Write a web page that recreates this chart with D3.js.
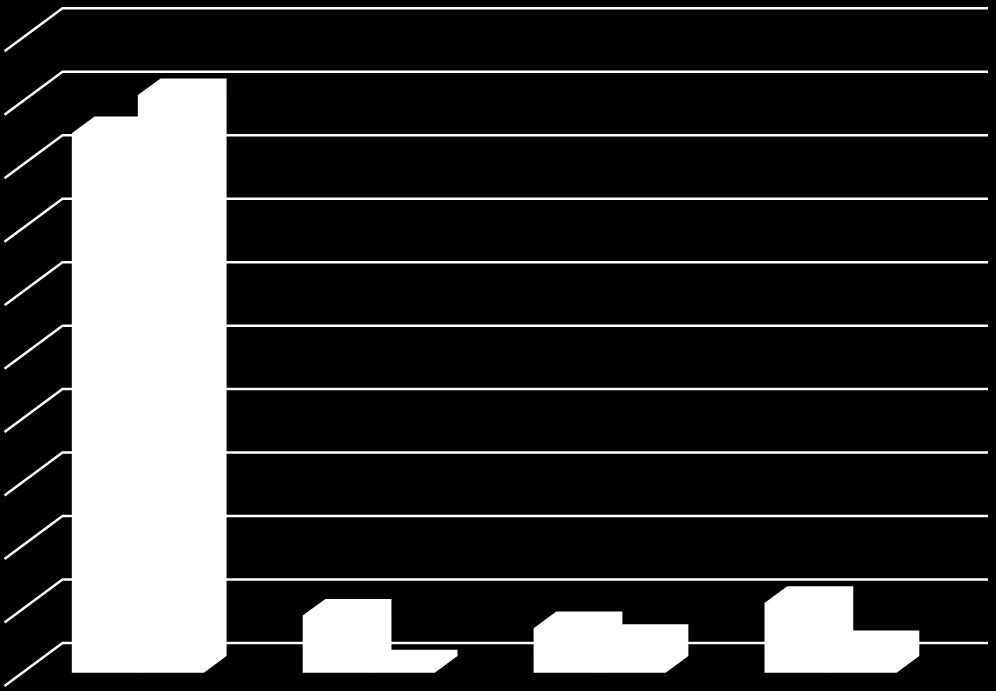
<!DOCTYPE html>
<html>
<head>
<meta charset="utf-8">
<script src="https://cdn.jsdelivr.net/npm/d3@7"></script>
<style>
  html, body { margin: 0; padding: 0; background: #000; }
  svg { display: block; }
</style>
</head>
<body>
<svg id="chart"></svg>
<script>
const categories = ['Group 1', 'Group 2', 'Group 3', 'Group 4'];
const seriesNames = ['Series 1', 'Series 2'];
const series1 = [85, 9, 7, 11];
const series2 = [91, 1, 5, 4];
const axisTicks = [0, 10, 20, 30, 40, 50, 60, 70, 80, 90, 100];

const width = 996;
const height = 691;

// 3d look: back wall vs front edge of the floor, and the bar's own depth
const wall = { left: 62.5, right: 988, top: 8.3, bottom: 643 };
const floorDx = 58;
const floorDy = 43;
const barDx = 22.7;
const barDy = 16.7;
const barBackShift = 13; // bar's back face sits this far below the wall baseline

const y = d3.scaleLinear().domain([0, 100]).range([wall.bottom, wall.top]);

const x0 = d3.scaleBand()
    .domain(categories)
    .range([22.4, 946])
    .paddingInner(0.428)
    .paddingOuter(0.214);

const x1 = d3.scaleBand()
    .domain(seriesNames)
    .range([0, x0.bandwidth()]);

const svg = d3.select('#chart')
    .attr('width', width)
    .attr('height', height)
    .style('background', '#000');

// grid lines: the diagonal on the side wall, then across the back wall
const gridLine = d3.line();
svg.append('g')
    .attr('class', 'grid')
    .selectAll('path')
    .data(axisTicks)
    .join('path')
    .attr('d', d => gridLine([
        [wall.left - floorDx, y(d) + floorDy],
        [wall.left, y(d)],
        [wall.right, y(d)]
    ]))
    .attr('fill', 'none')
    .attr('stroke', '#fff')
    .attr('stroke-width', 2.5);

const bars = [];
categories.forEach((c, i) => {
    bars.push({ cat: c, name: seriesNames[0], value: series1[i] });
    bars.push({ cat: c, name: seriesNames[1], value: series2[i] });
});

function facePath(d) {
    const left = x0(d.cat) + x1(d.name);
    const right = left + x1.bandwidth();
    const backTop = y(d.value) + barBackShift;
    const backBase = y(0) + barBackShift;
    const frontTop = backTop + barDy;
    const frontBase = backBase + barDy;
    return d3.line()([
        [left, frontBase],
        [left, frontTop],
        [left + barDx, backTop],
        [right + barDx, backTop],
        [right + barDx, backBase],
        [right, frontBase]
    ]) + 'Z';
}

svg.append('g')
    .attr('class', 'bars')
    .selectAll('path')
    .data(bars)
    .join('path')
    .attr('d', facePath)
    .attr('fill', '#fff');
</script>
</body>
</html>
